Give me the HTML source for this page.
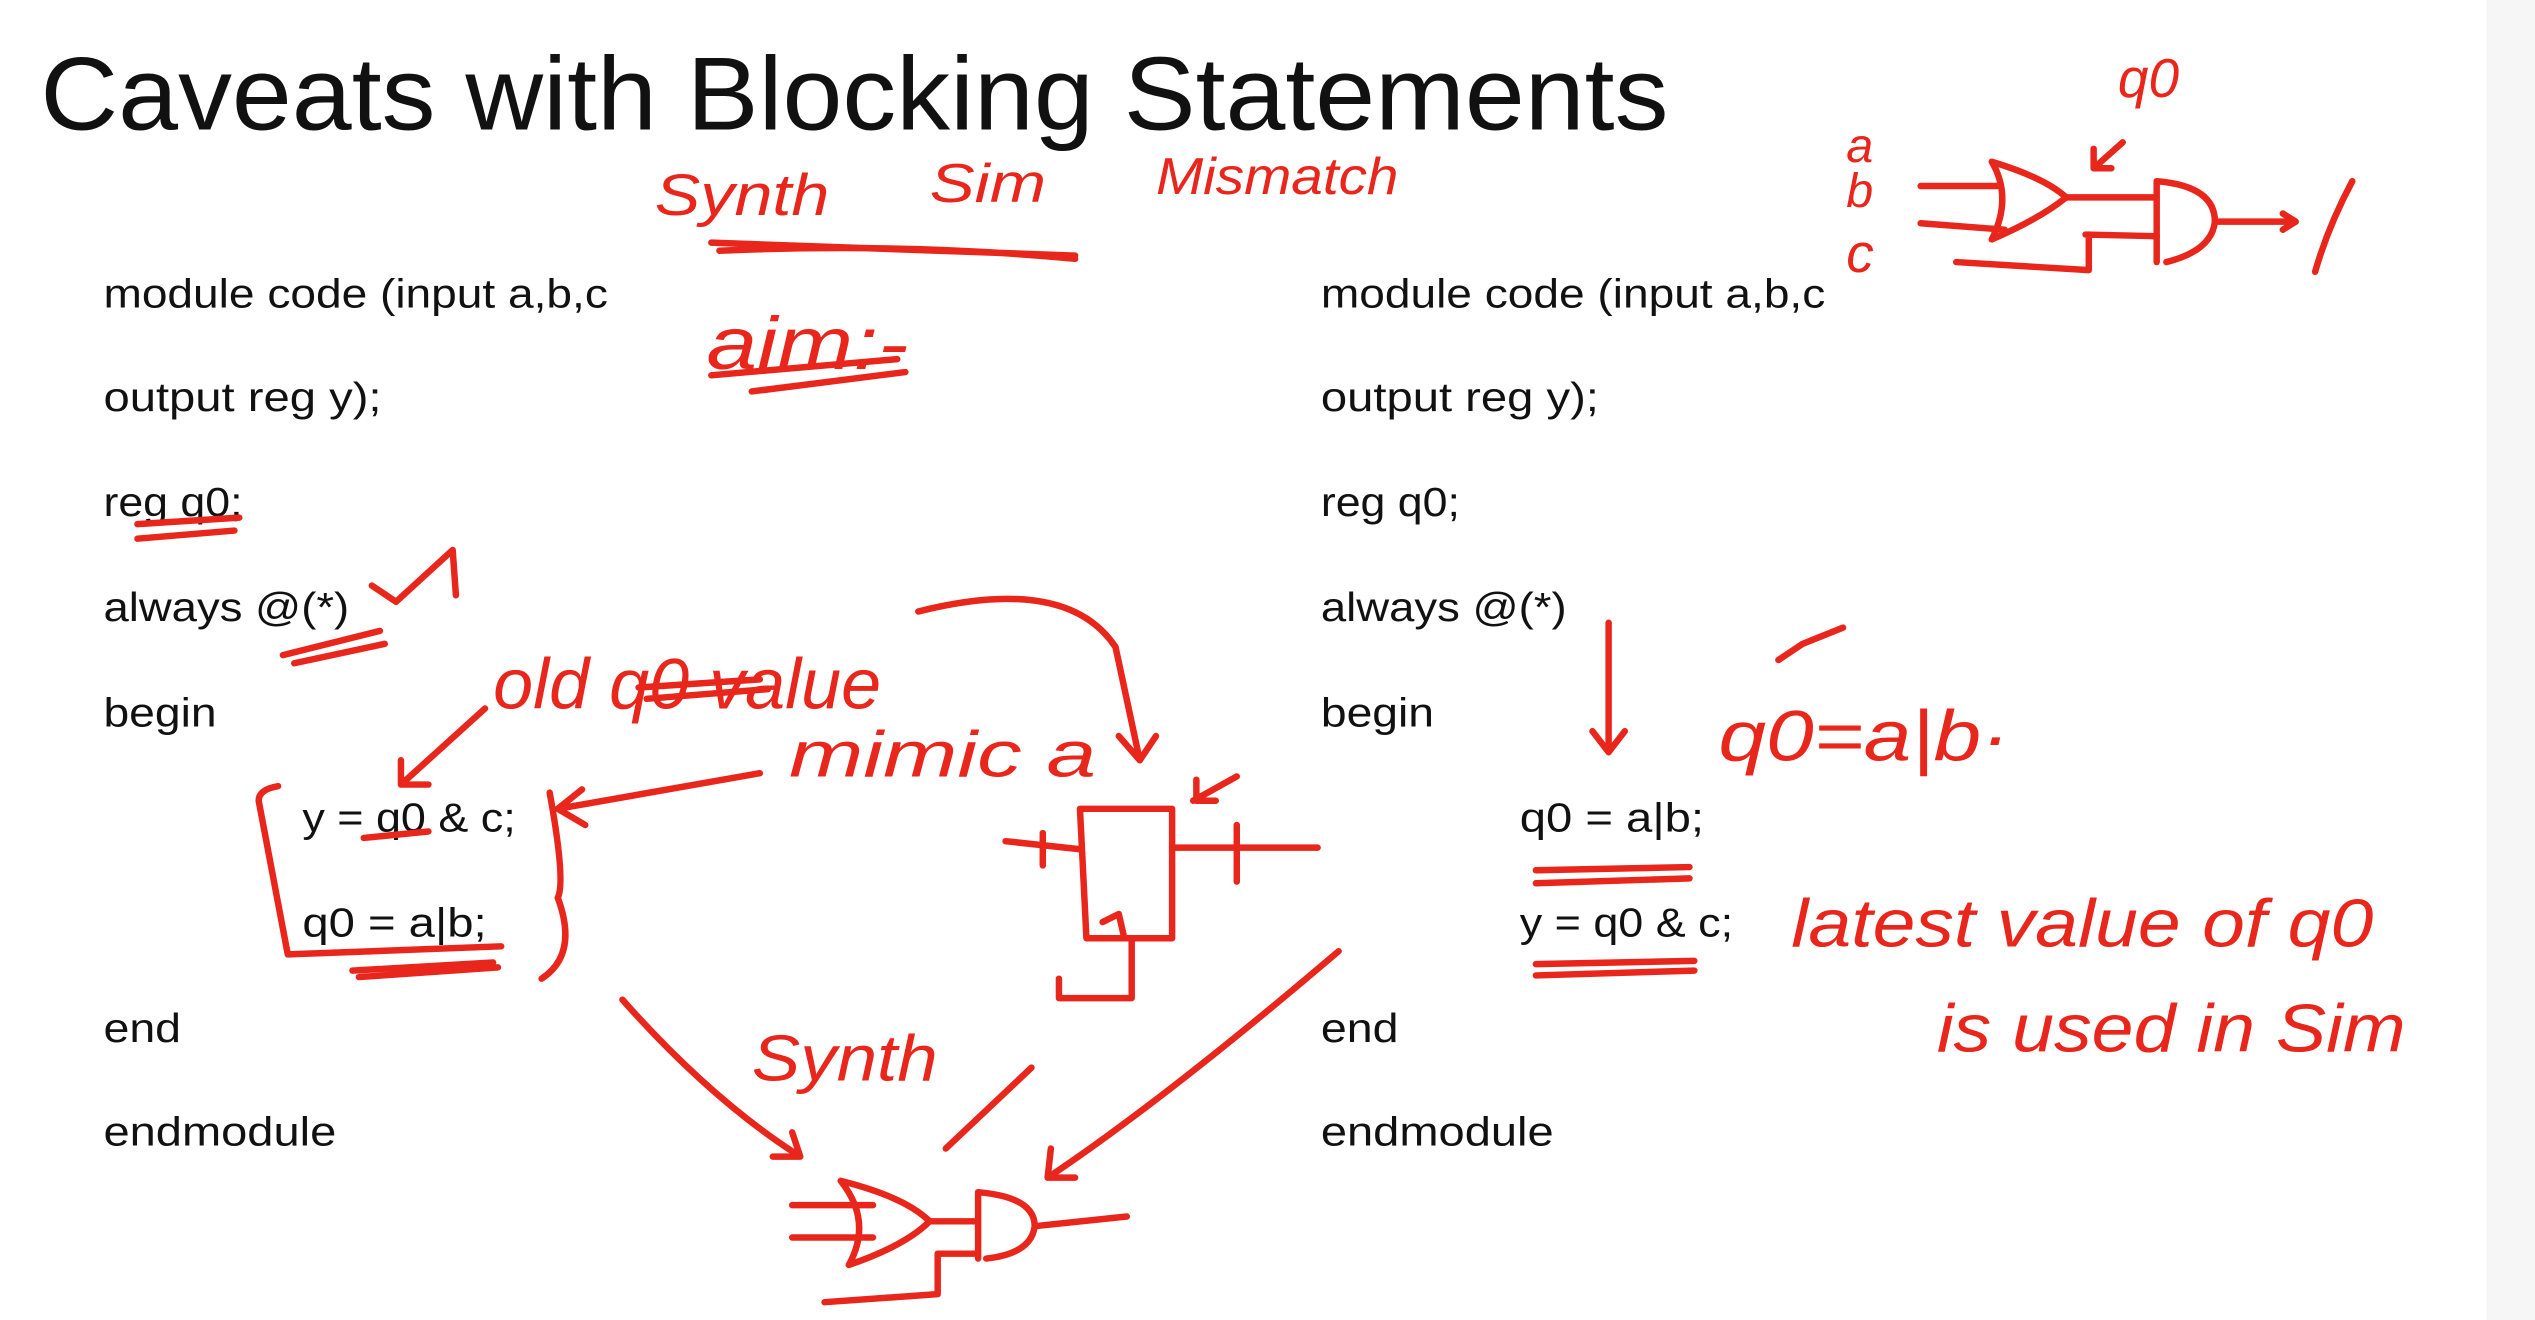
<!DOCTYPE html>
<html><head><meta charset="utf-8"><style>
html,body{margin:0;padding:0;background:#fff}
svg{display:block}
</style></head><body>
<svg width="2535" height="1320" viewBox="0 0 1568 816" preserveAspectRatio="none" xmlns="http://www.w3.org/2000/svg">
<rect x="0" y="0" width="1568" height="816" fill="#fff"/>
<rect x="1538" y="0" width="30" height="816" fill="#f6f6f6"/>
<text x="25" y="80" font-family="Liberation Sans, sans-serif" font-size="64" fill="#111" textLength="1007" lengthAdjust="spacingAndGlyphs">Caveats with Blocking Statements</text>
<g font-family="Liberation Sans, sans-serif" font-size="25" fill="#111">
<text x="64" y="190" textLength="312" lengthAdjust="spacingAndGlyphs">module code (input a,b,c</text>
<text x="64" y="254" textLength="172" lengthAdjust="spacingAndGlyphs">output reg y);</text>
<text x="64" y="319" textLength="86" lengthAdjust="spacingAndGlyphs">reg q0;</text>
<text x="64" y="384" textLength="152" lengthAdjust="spacingAndGlyphs">always @(*)</text>
<text x="64" y="449" textLength="70" lengthAdjust="spacingAndGlyphs">begin</text>
<text x="187" y="514" textLength="132" lengthAdjust="spacingAndGlyphs">y = q0 &amp; c;</text>
<text x="187" y="579" textLength="114" lengthAdjust="spacingAndGlyphs">q0 = a|b;</text>
<text x="64" y="644" textLength="48" lengthAdjust="spacingAndGlyphs">end</text>
<text x="64" y="708" textLength="144" lengthAdjust="spacingAndGlyphs">endmodule</text>
<text x="817" y="190" textLength="312" lengthAdjust="spacingAndGlyphs">module code (input a,b,c</text>
<text x="817" y="254" textLength="172" lengthAdjust="spacingAndGlyphs">output reg y);</text>
<text x="817" y="319" textLength="86" lengthAdjust="spacingAndGlyphs">reg q0;</text>
<text x="817" y="384" textLength="152" lengthAdjust="spacingAndGlyphs">always @(*)</text>
<text x="817" y="449" textLength="70" lengthAdjust="spacingAndGlyphs">begin</text>
<text x="940" y="514" textLength="114" lengthAdjust="spacingAndGlyphs">q0 = a|b;</text>
<text x="940" y="579" textLength="132" lengthAdjust="spacingAndGlyphs">y = q0 &amp; c;</text>
<text x="817" y="644" textLength="48" lengthAdjust="spacingAndGlyphs">end</text>
<text x="817" y="708" textLength="144" lengthAdjust="spacingAndGlyphs">endmodule</text>
</g>
<g font-family="Liberation Sans, sans-serif" font-style="italic" fill="#e8261c">
<text x="405" y="133" font-size="36" textLength="108" lengthAdjust="spacingAndGlyphs">Synth</text>
<text x="575" y="125" font-size="34" textLength="72" lengthAdjust="spacingAndGlyphs">Sim</text>
<text x="715" y="120" font-size="32" textLength="150" lengthAdjust="spacingAndGlyphs">Mismatch</text>
<text x="437" y="228" font-size="46" textLength="125" lengthAdjust="spacingAndGlyphs">aim:-</text>
<text x="305" y="438" font-size="44" textLength="240" lengthAdjust="spacingAndGlyphs">old q0 value</text>
<text x="488" y="480" font-size="40" textLength="190" lengthAdjust="spacingAndGlyphs">mimic  a</text>
<text x="465" y="668" font-size="40" textLength="115" lengthAdjust="spacingAndGlyphs">Synth</text>
<text x="1063" y="470" font-size="44" textLength="180" lengthAdjust="spacingAndGlyphs">q0=a|b·</text>
<text x="1108" y="585" font-size="42" textLength="360" lengthAdjust="spacingAndGlyphs">latest value of q0</text>
<text x="1198" y="650" font-size="42" textLength="290" lengthAdjust="spacingAndGlyphs">is used in Sim</text>
<text x="1310" y="60" font-size="34">q0</text>
<text x="1142" y="100" font-size="30">a</text>
<text x="1142" y="128" font-size="30">b</text>
<text x="1142" y="168" font-size="34">c</text>
</g>
<g fill="none" stroke="#e8261c" stroke-width="4" stroke-linecap="round" stroke-linejoin="round">
<!-- top right circuit -->
<path d="M1188 115 L1235 115 M1188 138 Q1215 140 1240 142"/>
<path d="M1232 100 Q1265 110 1278 122 Q1262 135 1232 148 Q1245 122 1232 100"/>
<path d="M1278 122 L1334 122 M1334 112 L1334 162 M1334 112 Q1370 115 1370 137 Q1368 155 1340 162"/>
<path d="M1290 145 L1334 146 M1292 145 L1292 167 L1210 162"/>
<path d="M1370 137 L1420 137 M1412 132 L1420 137 L1412 142"/>
<path d="M1455 112 Q1440 140 1432 168"/>
<path d="M1313 88 L1295 104 M1295 92 L1295 104 L1306 104"/>
<!-- underlines -->
<path d="M440 150 L665 158 M445 155 Q560 150 665 160"/>
<path d="M440 232 L555 222 M465 242 L560 230"/>
<path d="M85 324 L148 320 M85 333 L145 328"/>
<path d="M175 405 L235 390 M182 410 L238 398"/>
<path d="M230 362 L245 372 L280 340 L282 368"/>
<path d="M395 425 L470 420 M400 432 L475 426"/>
<path d="M225 518 L265 514"/>
<path d="M218 600 L305 595 M222 604 L308 598"/>
<path d="M950 538 L1045 536 M950 546 L1045 543"/>
<path d="M950 596 L1048 594 M950 603 L1048 600"/>
<!-- brackets -->
<path d="M172 486 Q160 488 160 495 L178 590 L310 585"/>
<path d="M340 490 Q350 545 345 555 Q358 590 335 605"/>
<!-- arrows -->
<path d="M300 438 L248 485 M248 470 L248 485 L265 485"/>
<path d="M470 478 L345 500 M360 488 L345 500 L362 510"/>
<path d="M568 378 Q660 355 690 400 L705 470 M692 455 L705 470 L715 455"/>
<path d="M995 385 L995 465 M985 452 L995 465 L1005 452"/>
<path d="M1100 408 L1115 398 M1115 398 L1140 388"/>
<path d="M385 618 Q440 680 495 715 M478 715 L495 715 L490 700"/>
<path d="M638 660 L585 710"/>
<path d="M828 588 Q720 680 648 728 M650 710 L648 728 L665 728"/>
<!-- flip flop -->
<path d="M668 500 L725 500 L725 580 L672 580 Z"/>
<path d="M622 520 L668 525 M645 515 L645 535"/>
<path d="M725 524 L815 524 M765 510 L765 545"/>
<path d="M738 495 L765 480 M740 482 L740 495 L752 495"/>
<path d="M682 570 L692 565 L695 578"/>
<path d="M655 605 L655 617 L700 617 L700 580"/>
<!-- bottom circuit -->
<path d="M490 745 L540 745 M490 765 L540 765"/>
<path d="M520 730 Q560 740 575 755 Q560 770 525 782 Q540 755 520 730"/>
<path d="M575 755 L605 755 M605 737 L605 778 M605 737 Q640 740 640 758 Q638 775 610 778"/>
<path d="M640 758 L697 752"/>
<path d="M580 775 L603 775 M580 775 L580 800 L510 805"/>
</g>
</svg>
</body></html>
